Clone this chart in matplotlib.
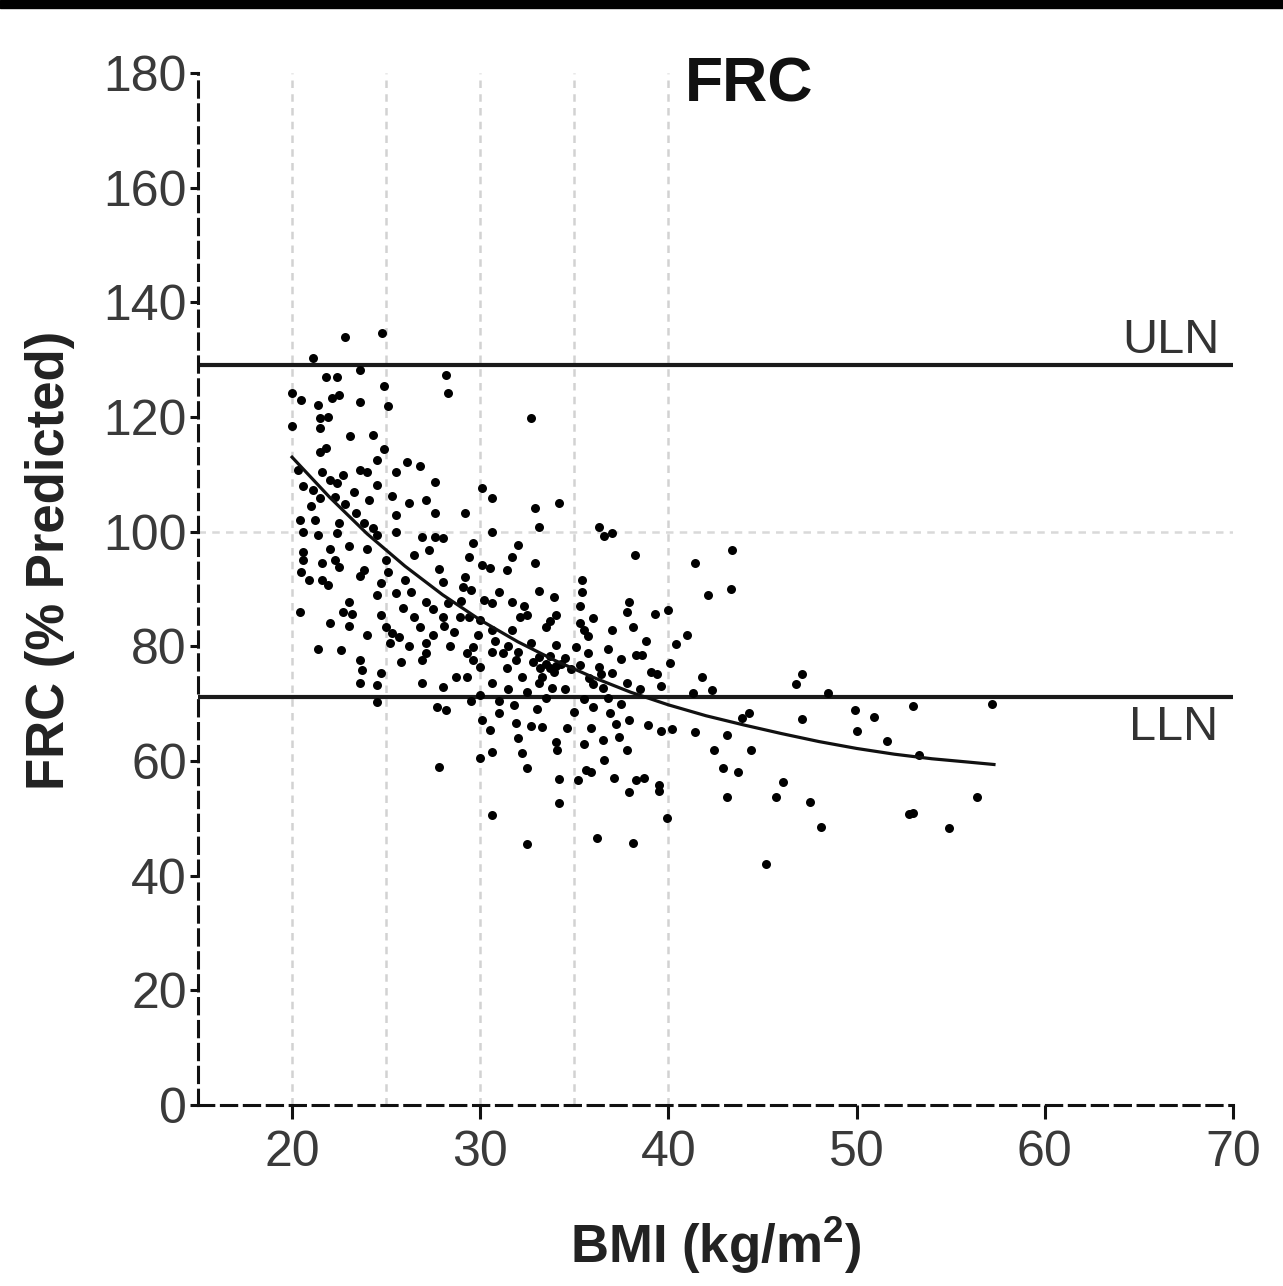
import matplotlib
matplotlib.use("Agg")
import matplotlib.pyplot as plt
from matplotlib.patches import Rectangle

plt.rcParams['font.family'] = ['Liberation Sans', 'DejaVu Sans']
plt.rcParams['mathtext.fontset'] = 'custom'
plt.rcParams['mathtext.rm'] = 'Liberation Sans:bold'
plt.rcParams['mathtext.bf'] = 'Liberation Sans:bold'

# scatter values (BMI, FRC % predicted)
pts_high = [(22.8, 134.0), (24.8, 134.7), (21.1, 130.3), (23.6, 128.2), (21.8, 127.0), (22.4, 127.0),
            (28.2, 127.3), (24.9, 125.4), (28.3, 124.2), (20.0, 124.2), (20.5, 123.0), (21.4, 122.1),
            (22.1, 123.3), (22.5, 123.8), (23.6, 122.6), (25.1, 121.9), (21.5, 119.8), (21.9, 120.0),
            (20.0, 118.4), (21.5, 118.1), (23.1, 116.7), (24.3, 116.9), (21.5, 113.9), (21.8, 114.6),
            (24.9, 114.4), (24.5, 112.5), (26.1, 112.2), (26.8, 111.5), (25.5, 110.4), (22.7, 109.9),
            (23.6, 110.8), (24.0, 110.4), (27.6, 108.7), (24.5, 108.1), (22.4, 108.5), (23.3, 106.9),
            (25.3, 106.2), (27.1, 105.5), (24.1, 105.5), (26.2, 105.0), (21.1, 107.3), (21.5, 105.9),
            (27.6, 103.3), (25.5, 102.9), (23.4, 103.3), (32.7, 119.8), (30.1, 107.6), (30.6, 105.9),
            (32.9, 104.1), (34.2, 105.0), (29.2, 103.3), (20.3, 110.8), (20.6, 108.0), (21.0, 104.5),
            (20.4, 102.0), (21.6, 110.5), (22.0, 109.0), (22.3, 106.0), (22.8, 104.8)]

pts_left = [(20.6, 99.9), (21.4, 99.4), (22.4, 99.8), (24.3, 100.6), (24.5, 99.4), (25.5, 99.9),
            (26.9, 99.1), (27.6, 99.1), (27.3, 96.8), (28.0, 98.9), (20.6, 96.5), (20.6, 95.0),
            (21.6, 94.5), (22.3, 95.1), (22.5, 93.9), (20.5, 93.0), (23.8, 93.3), (23.6, 92.2),
            (25.1, 93.0), (21.6, 91.6), (21.9, 90.7), (24.7, 91.1), (28.0, 91.2), (24.5, 89.0),
            (25.5, 89.3), (23.0, 87.7), (22.7, 86.0), (23.2, 85.6), (27.1, 87.7), (27.5, 86.5),
            (20.4, 86.0), (25.9, 86.7), (24.7, 85.5), (25.0, 83.4), (26.5, 85.1), (26.8, 83.4),
            (28.0, 85.1), (28.1, 83.6), (25.3, 82.3), (25.7, 81.6), (27.1, 80.6), (25.2, 80.6),
            (21.4, 79.5), (22.6, 79.4), (28.4, 80.1), (26.9, 77.6), (27.1, 78.8), (25.8, 77.3),
            (23.6, 77.6), (23.7, 75.9), (24.7, 75.4), (23.6, 73.6), (24.5, 73.3), (26.9, 73.6),
            (28.0, 72.9), (28.7, 74.7), (24.5, 70.3), (27.8, 59.0), (28.2, 68.9), (27.7, 69.5),
            (20.9, 91.6), (28.6, 82.5), (28.3, 87.5), (26.3, 89.5), (26.0, 91.5), (25.0, 95.0),
            (24.0, 97.0), (23.0, 97.5), (22.0, 97.0), (21.2, 102.0), (22.5, 101.5), (23.8, 101.5),
            (26.5, 96.0), (27.8, 93.5), (27.5, 82.0), (26.2, 80.0), (24.0, 82.0), (23.0, 83.5),
            (22.0, 84.0)]

pts_mid = [(30.6, 99.9), (33.1, 100.8), (36.3, 100.8), (37.0, 99.8), (36.6, 99.2), (29.6, 98.0),
           (32.0, 97.7), (29.4, 95.6), (31.7, 95.6), (38.2, 95.9), (30.1, 94.2), (30.5, 93.6),
           (31.4, 93.3), (32.9, 94.5), (29.2, 92.1), (29.1, 90.4), (29.5, 89.8), (35.4, 91.6),
           (35.4, 89.5), (33.1, 89.7), (31.0, 89.5), (33.9, 88.6), (30.2, 88.1), (30.6, 87.5),
           (31.7, 87.7), (32.3, 87.1), (35.3, 87.0), (37.9, 87.7), (37.8, 86.0), (28.9, 85.1),
           (29.4, 85.1), (32.5, 85.5), (32.1, 85.1), (34.0, 85.5), (33.7, 84.5), (33.5, 83.4),
           (35.3, 84.1), (35.5, 82.9), (35.7, 81.8), (31.7, 82.9), (30.6, 82.9), (30.0, 84.6),
           (37.0, 82.9), (38.1, 83.4), (29.6, 79.9), (29.3, 78.8), (30.6, 79.0), (31.2, 78.8),
           (32.7, 80.6), (33.1, 78.1), (33.7, 78.4), (34.0, 80.2), (35.1, 79.9), (35.7, 78.8),
           (30.0, 76.4), (29.6, 77.6), (31.4, 76.2), (31.9, 77.6), (32.2, 74.7), (33.3, 74.7),
           (33.7, 76.2), (34.3, 77.0), (36.3, 76.4), (36.4, 75.2), (37.0, 75.4), (38.3, 78.5),
           (37.8, 73.6), (33.1, 73.6), (30.6, 73.6), (29.3, 74.7), (30.0, 71.5), (31.0, 70.5),
           (32.5, 72.0), (33.5, 71.0), (34.5, 72.5), (35.5, 70.8), (36.0, 69.5), (36.8, 71.0),
           (37.5, 70.0), (38.5, 72.5), (31.8, 69.8), (29.5, 70.5), (35.0, 68.5), (33.0, 69.0),
           (33.5, 77.0), (34.0, 76.5), (34.5, 78.0), (34.8, 76.0), (33.9, 75.5), (32.8, 77.2),
           (33.2, 76.3), (35.3, 76.8), (36.0, 73.5), (36.5, 72.8), (35.8, 74.5), (31.5, 80.0),
           (32.0, 79.0), (30.8, 81.0), (29.9, 82.0), (29.0, 88.0), (36.0, 85.0), (36.8, 79.5),
           (37.5, 77.8), (38.8, 81.0), (31.5, 72.5), (33.8, 72.8)]

pts_right = [(43.4, 96.8), (41.4, 94.5), (42.1, 89.0), (43.3, 90.0), (39.3, 85.6), (40.0, 86.3),
             (41.0, 82.0), (40.4, 80.4), (38.6, 78.5), (40.1, 77.1), (39.1, 75.5), (39.4, 75.2),
             (41.8, 74.7), (39.6, 73.1), (41.3, 71.9), (42.3, 72.4), (47.1, 75.2), (46.8, 73.4),
             (48.5, 71.9)]

pts_low = [(30.1, 67.2), (31.0, 68.4), (31.9, 66.6), (32.7, 66.1), (33.3, 66.0), (34.6, 65.8),
           (35.9, 65.8), (36.9, 68.4), (37.9, 67.2), (34.0, 63.3), (34.1, 61.9), (36.5, 63.7),
           (37.4, 64.2), (37.8, 61.9), (30.0, 60.5), (30.6, 61.6), (32.2, 61.4), (32.5, 58.8),
           (36.6, 60.2), (34.2, 56.9), (35.2, 56.7), (35.6, 58.4), (35.9, 58.1), (37.1, 57.0),
           (38.3, 56.7), (37.9, 54.6), (34.2, 52.7), (30.6, 50.6), (32.5, 45.5), (36.2, 46.6),
           (38.1, 45.7), (44.3, 68.4), (43.9, 67.5), (47.1, 67.3), (49.9, 68.9), (50.9, 67.7),
           (50.0, 65.2), (51.6, 63.5), (53.0, 69.6), (57.2, 70.0), (53.3, 61.0), (41.4, 65.1),
           (40.2, 65.6), (39.6, 65.2), (38.9, 66.3), (43.1, 64.5), (42.4, 61.9), (44.4, 61.9),
           (42.9, 58.8), (43.7, 58.1), (38.7, 57.0), (39.5, 55.8), (39.5, 54.8), (46.1, 56.3),
           (43.1, 53.7), (45.7, 53.7), (47.5, 52.9), (48.1, 48.5), (39.9, 50.1), (45.2, 42.0),
           (53.0, 50.9), (52.8, 50.8), (54.9, 48.3), (56.4, 53.7), (37.2, 66.5), (35.5, 63.0),
           (32.0, 64.0), (30.5, 65.5)]

# fitted curve, read every 2 BMI units
fit_bmi = [20, 22, 24, 26, 28, 30, 32, 34, 36, 38, 40, 42, 44, 46, 48, 50, 52, 54, 56, 57.3]
fit_frc = [113.0, 106.0, 99.6, 94.0, 89.0, 84.6, 80.8, 77.5, 74.6, 72.0, 69.8, 67.9, 66.3,
           64.8, 63.4, 62.2, 61.2, 60.4, 59.8, 59.4]

uln = 129.1
lln = 71.2
grid_x = [20, 25, 30, 35, 40]
x_ticks = [20, 30, 40, 50, 60, 70]
y_ticks = list(range(0, 181, 20))

fig = plt.figure(figsize=(12.83, 12.86), dpi=100)
fig.patches.append(Rectangle((0, 1 - 8 / 1286), 1, 8 / 1286, transform=fig.transFigure,
                             color='black', zorder=10))
ax = fig.add_axes([0.1543, 0.1407, 0.8067, 0.8025])

# light dashed guides
for gx in grid_x:
    ax.axvline(gx, color='#d2d2d2', lw=1.8, ls=(0, (3, 2.5)), zorder=0)
ax.axhline(100, color='#d9d9d9', lw=1.8, ls=(0, (3, 2.5)), zorder=0)

ax.axhline(uln, color='#1a1a1a', lw=3, zorder=2)
ax.axhline(lln, color='#1a1a1a', lw=3, zorder=2)

all_pts = pts_high + pts_left + pts_mid + pts_right + pts_low
ax.scatter([p[0] for p in all_pts], [p[1] for p in all_pts], s=42, color='black',
           linewidths=0, zorder=3)
ax.plot(fit_bmi, fit_frc, color='#111111', lw=2.3, zorder=4)

ax.set_xlim(15, 70)
ax.set_ylim(0, 180)
ax.set_xticks(x_ticks)
ax.set_yticks(y_ticks)

for side in ['top', 'right']:
    ax.spines[side].set_visible(False)
for side in ['left', 'bottom']:
    ax.spines[side].set_linewidth(2.2)
    ax.spines[side].set_linestyle((0, (5, 2.5)))
    ax.spines[side].set_color('#111111')

ax.tick_params(axis='x', length=10, width=2.2, pad=8, labelsize=36, labelcolor='#3a3a3a', color='#111111')
ax.tick_params(axis='y', length=6, width=2.2, pad=2, labelsize=36, labelcolor='#3a3a3a', color='#111111')

ax.set_xlabel(r'BMI (kg/m$^{2}$)', fontsize=38, fontweight='bold', color='#222222', va='center')
ax.xaxis.set_label_coords(0.5, -0.136)
ax.set_ylabel('FRC (% Predicted)', fontsize=38, fontweight='bold', color='#222222', va='center')
ax.yaxis.set_label_coords(-0.143, 0.528)

ax.text(44.3, 177.9, 'FRC', fontsize=45, fontweight='bold', ha='center', va='center', color='#111111')
ax.text(69.3, 133.4, 'ULN', fontsize=35, ha='right', va='center', color='#333333')
ax.text(69.2, 65.8, 'LLN', fontsize=35, ha='right', va='center', color='#333333')

fig.savefig('out.png', dpi=100)
plt.close()
